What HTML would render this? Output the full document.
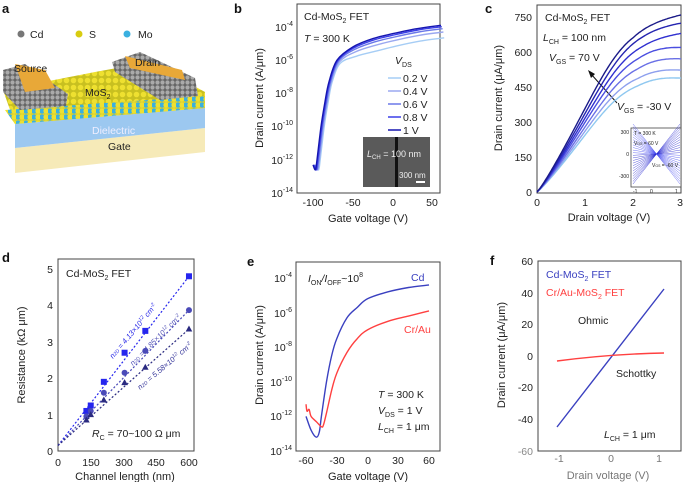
<!DOCTYPE html>
<html><head><meta charset="utf-8"><style>
body{margin:0;background:#fff}
svg{display:block;font-family:"Liberation Sans",sans-serif}
.t{font-size:11px;fill:#222}
.s{font-size:10.5px;fill:#222}
.pl{font-size:13px;font-weight:bold;fill:#111}
</style></head><body>
<svg id="s" width="684" height="482" viewBox="0 0 684 482">
<defs>
<pattern id="pm" width="7" height="7" patternUnits="userSpaceOnUse"><rect width="7" height="7" fill="#c8c020"/><circle cx="3.5" cy="3.5" r="2.8" fill="#eee030"/></pattern>
<pattern id="pb" width="8" height="6" patternUnits="userSpaceOnUse"><rect width="8" height="6" fill="#d8d030"/><circle cx="2" cy="3" r="2.6" fill="#3ab0e0"/><circle cx="6" cy="3" r="2.6" fill="#eee030"/></pattern>
<pattern id="pc" width="5" height="5" patternUnits="userSpaceOnUse"><rect width="5" height="5" fill="#666"/><circle cx="2.5" cy="2.5" r="2.1" fill="#aaa"/></pattern>
</defs>
<!-- panel a -->
<text class="pl" x="2" y="13">a</text>
<circle cx="21" cy="34" r="3.5" fill="#777"/><text class="s" x="30" y="38">Cd</text>
<circle cx="79" cy="34" r="3.5" fill="#d8cc10"/><text class="s" x="89" y="38">S</text>
<circle cx="127" cy="34" r="3.5" fill="#3ab0e0"/><text class="s" x="138" y="38">Mo</text>
<polygon points="15,148 205,128 205,152 15,173" fill="#f6eab8"/>
<polygon points="15,124 205,108 205,128 15,148" fill="#9cc8f0"/>
<polygon points="3,90 95,72 150,62 205,92 205,108 15,124" fill="url(#pm)"/>
<polygon points="5,110 205,96 205,108 15,124" fill="url(#pb)"/>
<polygon points="3,70 25,64 68,94 66,106 20,110 3,92" fill="url(#pc)"/>
<polygon points="112,62 140,52 195,78 198,96 160,100 115,72" fill="url(#pc)"/>
<polygon points="15,64 45,70 55,88 25,92" fill="#e8a838"/>
<polygon points="125,56 182,70 185,80 130,68" fill="#e8a838"/>
<text class="s" x="14" y="72">Source</text>
<text class="s" x="135" y="66">Drain</text>
<text class="s" x="85" y="96">MoS<tspan font-size="7" dy="3">2</tspan></text>
<text class="s" x="92" y="134" style="fill:#eef">Dielectric</text>
<text class="s" x="108" y="150">Gate</text>

<!-- panel b -->
<text class="pl" x="234" y="13">b</text>
<rect x="297" y="4" width="143" height="189" fill="none" stroke="#444"/>
<g class="s" text-anchor="end">
<text x="293" y="31">10<tspan font-size="7" dy="-5">-4</tspan></text>
<text x="293" y="64">10<tspan font-size="7" dy="-5">-6</tspan></text>
<text x="293" y="97">10<tspan font-size="7" dy="-5">-8</tspan></text>
<text x="293" y="130">10<tspan font-size="7" dy="-5">-10</tspan></text>
<text x="293" y="164">10<tspan font-size="7" dy="-5">-12</tspan></text>
<text x="293" y="197">10<tspan font-size="7" dy="-5">-14</tspan></text>
</g>
<g class="s" text-anchor="middle"><text x="313" y="206">-100</text><text x="353" y="206">-50</text><text x="393" y="206">0</text><text x="432" y="206">50</text></g>
<text class="t" x="368" y="222" text-anchor="middle">Gate voltage (V)</text>
<text class="t" transform="translate(263,98) rotate(-90)" text-anchor="middle">Drain current (A/μm)</text>
<text class="s" x="304" y="20">Cd-MoS<tspan font-size="7" dy="3">2</tspan><tspan dy="-3"> FET</tspan></text>
<text class="s" x="304" y="42"><tspan font-style="italic">T</tspan> = 300 K</text>
<text class="s" x="395" y="64" font-style="italic">V<tspan font-size="7" dy="3" font-style="normal">DS</tspan></text>
<g class="s"><text x="403" y="82">0.2 V</text><text x="403" y="95">0.4 V</text><text x="403" y="108">0.6 V</text><text x="403" y="121">0.8 V</text><text x="403" y="134">1 V</text></g>
<g stroke-width="1.5"><line x1="388" y1="78" x2="401" y2="78" stroke="#a6cdf5"/><line x1="388" y1="91" x2="401" y2="91" stroke="#9aa8f0"/><line x1="388" y1="104" x2="401" y2="104" stroke="#6b78e8"/><line x1="388" y1="117" x2="401" y2="117" stroke="#3a3fe8"/><line x1="388" y1="130" x2="401" y2="130" stroke="#1515b0"/></g>
<rect x="363" y="137" width="67" height="50" fill="#5a5a5a"/>
<rect x="395" y="137" width="3" height="50" fill="#111"/>
<text x="367" y="157" font-size="9" fill="#eee" font-style="italic">L<tspan font-size="6" dy="2" font-style="normal">CH</tspan><tspan dy="-2" font-style="normal"> = 100 nm</tspan></text>
<text x="399" y="178" font-size="8" fill="#eee">300 nm</text>
<rect x="416" y="181" width="9" height="2" fill="#fff"/>
<g id="bc" fill="none" stroke-width="1.4"></g>

<!-- panel c -->
<text class="pl" x="485" y="13">c</text>
<rect x="537" y="5" width="144" height="188" fill="none" stroke="#444"/>
<g class="s" text-anchor="end"><text x="532" y="21">750</text><text x="532" y="56">600</text><text x="532" y="91">450</text><text x="532" y="126">300</text><text x="532" y="161">150</text><text x="532" y="196">0</text></g>
<g class="s" text-anchor="middle"><text x="537" y="206">0</text><text x="585" y="206">1</text><text x="633" y="206">2</text><text x="680" y="206">3</text></g>
<text class="t" x="609" y="221" text-anchor="middle">Drain voltage (V)</text>
<text class="t" transform="translate(502,98) rotate(-90)" text-anchor="middle">Drain current (μA/μm)</text>
<text class="s" x="545" y="21">Cd-MoS<tspan font-size="7" dy="3">2</tspan><tspan dy="-3"> FET</tspan></text>
<text class="s" x="543" y="41" font-style="italic">L<tspan font-size="7" dy="3" font-style="normal">CH</tspan><tspan dy="-3" font-style="normal"> = 100 nm</tspan></text>
<text class="s" x="549" y="61" font-style="italic">V<tspan font-size="7" dy="3" font-style="normal">GS</tspan><tspan dy="-3" font-style="normal"> = 70 V</tspan></text>
<text class="s" x="617" y="110" font-style="italic">V<tspan font-size="7" dy="3" font-style="normal">GS</tspan><tspan dy="-3" font-style="normal"> = -30 V</tspan></text>
<line x1="617" y1="103" x2="591" y2="74" stroke="#111"/><polygon points="588,70 595,74 591,78" fill="#111"/>
<g id="cc" fill="none" stroke-width="1.4"></g>
<rect x="631" y="128" width="50" height="59" fill="#fff" stroke="#444" stroke-width="0.8"/>
<g id="ci" stroke-width="0.5"></g>
<g font-size="5" fill="#222"><text x="629" y="134" text-anchor="end">300</text><text x="629" y="156" text-anchor="end">0</text><text x="629" y="178" text-anchor="end">-300</text><text x="633" y="193">-1</text><text x="650" y="193">0</text><text x="675" y="193">1</text><text x="634" y="135">T = 300 K</text><text x="634" y="145">V<tspan font-size="3.5">GS</tspan> = 60 V</text><text x="652" y="167">V<tspan font-size="3.5">GS</tspan> = -60 V</text></g>

<!-- panel d -->
<text class="pl" x="2" y="262">d</text>
<rect x="58" y="259" width="136" height="192" fill="none" stroke="#444"/>
<g class="s" text-anchor="end"><text x="53" y="273">5</text><text x="53" y="309">4</text><text x="53" y="346">3</text><text x="53" y="382">2</text><text x="53" y="419">1</text><text x="53" y="455">0</text></g>
<g class="s" text-anchor="middle"><text x="58" y="466">0</text><text x="91" y="466">150</text><text x="124" y="466">300</text><text x="156" y="466">450</text><text x="189" y="466">600</text></g>
<text class="t" x="125" y="480" text-anchor="middle">Channel length (nm)</text>
<text class="t" transform="translate(25,355) rotate(-90)" text-anchor="middle">Resistance (kΩ μm)</text>
<text class="s" x="66" y="277">Cd-MoS<tspan font-size="7" dy="3">2</tspan><tspan dy="-3"> FET</tspan></text>
<text class="s" x="92" y="437" font-style="italic">R<tspan font-size="7" dy="3" font-style="normal">C</tspan><tspan dy="-3" font-style="normal"> = 70~100 Ω μm</tspan></text>
<g font-size="7.5" font-style="italic">
<text transform="translate(113,359) rotate(-50)" fill="#2a2ae8">n<tspan font-size="5">2D</tspan> = 4.13×10<tspan font-size="5" dy="-3">12</tspan><tspan dy="3"> cm</tspan><tspan font-size="5" dy="-3">-2</tspan></text>
<text transform="translate(133,366) rotate(-45)" fill="#5555b8">n<tspan font-size="5">2D</tspan> = 4.85×10<tspan font-size="5" dy="-3">12</tspan><tspan dy="3"> cm</tspan><tspan font-size="5" dy="-3">-2</tspan></text>
<text transform="translate(140,390) rotate(-40)" fill="#333399">n<tspan font-size="5">2D</tspan> = 5.58×10<tspan font-size="5" dy="-3">12</tspan><tspan dy="3"> cm</tspan><tspan font-size="5" dy="-3">-2</tspan></text>
</g>
<g id="dd"></g>

<!-- panel e -->
<text class="pl" x="247" y="266">e</text>
<rect x="296" y="262" width="144" height="189" fill="none" stroke="#444"/>
<g class="s" text-anchor="end">
<text x="292" y="282">10<tspan font-size="7" dy="-5">-4</tspan></text>
<text x="292" y="317">10<tspan font-size="7" dy="-5">-6</tspan></text>
<text x="292" y="351">10<tspan font-size="7" dy="-5">-8</tspan></text>
<text x="292" y="386">10<tspan font-size="7" dy="-5">-10</tspan></text>
<text x="292" y="420">10<tspan font-size="7" dy="-5">-12</tspan></text>
<text x="292" y="455">10<tspan font-size="7" dy="-5">-14</tspan></text>
</g>
<g class="s" text-anchor="middle"><text x="306" y="464">-60</text><text x="337" y="464">-30</text><text x="368" y="464">0</text><text x="398" y="464">30</text><text x="429" y="464">60</text></g>
<text class="t" x="368" y="480" text-anchor="middle">Gate voltage (V)</text>
<text class="t" transform="translate(263,355) rotate(-90)" text-anchor="middle">Drain current (A/μm)</text>
<text class="s" x="308" y="282" font-style="italic">I<tspan font-size="7" dy="3" font-style="normal">ON</tspan><tspan dy="-3">/I</tspan><tspan font-size="7" dy="3" font-style="normal">OFF</tspan><tspan dy="-3" font-style="normal">~10</tspan><tspan font-size="7" dy="-5" font-style="normal">8</tspan></text>
<text class="s" x="411" y="281" style="fill:#3a40c0">Cd</text>
<text class="s" x="404" y="333" style="fill:#ff4040">Cr/Au</text>
<text class="s" x="378" y="398"><tspan font-style="italic">T</tspan> = 300 K</text>
<text class="s" x="378" y="414" font-style="italic">V<tspan font-size="7" dy="3" font-style="normal">DS</tspan><tspan dy="-3" font-style="normal"> = 1 V</tspan></text>
<text class="s" x="378" y="430" font-style="italic">L<tspan font-size="7" dy="3" font-style="normal">CH</tspan><tspan dy="-3" font-style="normal"> = 1 μm</tspan></text>
<g id="ee" fill="none" stroke-width="1.4"></g>

<!-- panel f -->
<text class="pl" x="490" y="265">f</text>
<rect x="538" y="261" width="143" height="190" fill="none" stroke="#444"/>
<g class="s" text-anchor="end"><text x="533" y="265">60</text><text x="533" y="297">40</text><text x="533" y="328">20</text><text x="533" y="360">0</text><text x="533" y="391">-20</text><text x="533" y="423">-40</text><text x="533" y="455" style="fill:#888">-60</text></g>
<g class="s" text-anchor="middle" style="fill:#777"><text x="559" y="462">-1</text><text x="611" y="462">0</text><text x="659" y="462">1</text></g>
<text class="t" x="608" y="479" text-anchor="middle" style="fill:#777">Drain voltage (V)</text>
<text class="t" transform="translate(505,355) rotate(-90)" text-anchor="middle">Drain current (μA/μm)</text>
<text class="s" x="546" y="278" style="fill:#3a40c0">Cd-MoS<tspan font-size="7" dy="3">2</tspan><tspan dy="-3"> FET</tspan></text>
<text class="s" x="546" y="296" style="fill:#ff4040">Cr/Au-MoS<tspan font-size="7" dy="3">2</tspan><tspan dy="-3"> FET</tspan></text>
<text class="s" x="578" y="324">Ohmic</text>
<text class="s" x="616" y="377">Schottky</text>
<text class="s" x="604" y="438" font-style="italic">L<tspan font-size="7" dy="3" font-style="normal">CH</tspan><tspan dy="-3" font-style="normal"> = 1 μm</tspan></text>
<line x1="557" y1="427" x2="664" y2="289" stroke="#3a40c0" stroke-width="1.4"/>
<path d="M557,361 Q611,354 664,353" fill="none" stroke="#ff4040" stroke-width="1.4"/>
</svg>
<script>
function cr(p){let d="M"+p[0][0].toFixed(1)+","+p[0][1].toFixed(1);for(let i=0;i<p.length-1;i++){const a=p[Math.max(0,i-1)],b=p[i],c=p[i+1],e=p[Math.min(p.length-1,i+2)];d+=" C"+(b[0]+(c[0]-a[0])/6).toFixed(1)+","+(b[1]+(c[1]-a[1])/6).toFixed(1)+" "+(c[0]-(e[0]-b[0])/6).toFixed(1)+","+(c[1]-(e[1]-b[1])/6).toFixed(1)+" "+c[0].toFixed(1)+","+c[1].toFixed(1);}return d;}
function P(st,d,w,ex){return '<path d="'+d+'" stroke="'+st+'"'+(w?' stroke-width="'+w+'"':'')+(ex||'')+'/>';}
// b
(function(){const bx=v=>393+v*0.8,by=l=>27+(-4-l)*16.6;
const base=[[-100,-12.3],[-97,-12.6],[-95,-12],[-90,-10],[-85,-8.5],[-80,-7.3],[-70,-6],[-50,-5.2],[-25,-4.7],[0,-4.4],[30,-4.1],[60,-3.9]];
const cols=["#a6cdf5","#9aa8f0","#6b78e8","#3a3fe8","#1515b0"];let s="";
for(let k=0;k<5;k++){const sh=(4-k)*1.0,dl=[0.75,0.4,0.2,0.08,0][k];
const p=base.map(q=>{let v=q[0]+sh;let l=q[1]-dl*Math.min(1,Math.max(0,(q[0]+80)/40));return [bx(v),by(l)];});s+=P(cols[k],cr(p));}
document.getElementById("bc").innerHTML=s;})();
// c
(function(){const cols=["#8fc8f0","#8ea0ee","#6a70e6","#4a4ee0","#3030d0","#2424b0","#1a1a88"];
const Is=[495,530,580,630,680,725,740],sl=[245,262,280,300,318,338,360];let s="";
for(let k=0;k<7;k++){let p=[];for(let v=0;v<=3.001;v+=0.05){let lin=sl[k]*Math.pow(v,1.12);let x=lin/Is[k];let I=Is[k]*x/Math.pow(1+Math.pow(x,5),0.2);if(k==6)I+=Math.max(0,v-2)*30;else if(k>=4)I+=Math.max(0,v-2.2)*15;else I+=6*Math.sin(Math.max(0,v-2.1)*3.5);p.push([537+v*48,192-I*0.2333]);}s+=P(cols[k],cr(p));}
document.getElementById("cc").innerHTML=s;
let t="";for(let i=0;i<24;i++){const q=(i-11.5)/11.5;const y1=154+q*30,y2=154-q*30;t+='<line x1="633" y1="'+y1.toFixed(1)+'" x2="680" y2="'+y2.toFixed(1)+'" stroke="'+(i<12?"#4a4ef0":"#2a2ad0")+'" opacity="0.8"/>';}
document.getElementById("ci").innerHTML=t;})();
// d
(function(){const X=n=>58+n*0.2183,Y=r=>451-r*36.4;
const L=[130,150,210,305,400,600];
const S=[[1.1,1.25,1.9,2.7,3.3,4.8],[0.95,1.1,1.6,2.15,2.75,3.87],[0.85,1.0,1.4,1.88,2.3,3.35]];
const C=["#2525ee","#4a4ab8","#2a2a80"];let s="";
for(let k=0;k<3;k++){const m=(S[k][5]-0.15)/600;s+='<line x1="'+X(0)+'" y1="'+Y(0.15)+'" x2="'+X(600)+'" y2="'+Y(0.15+m*600)+'" stroke="'+C[k]+'" stroke-width="1.2" stroke-dasharray="2,2"/>';
for(let i=0;i<6;i++){const x=X(L[i]),y=Y(S[k][i]);
if(k==0)s+='<rect x="'+(x-3)+'" y="'+(y-3)+'" width="6" height="6" fill="'+C[k]+'"/>';
else if(k==1)s+='<circle cx="'+x+'" cy="'+y+'" r="3" fill="'+C[k]+'"/>';
else s+='<polygon points="'+x+','+(y-3.5)+' '+(x-3.3)+','+(y+2.5)+' '+(x+3.3)+','+(y+2.5)+'" fill="'+C[k]+'"/>';}}
document.getElementById("dd").innerHTML=s;})();
// e
(function(){const X=v=>367.5+v*1.025,Y=l=>278+(-4-l)*17.3;
const cd=[[-60,-12],[-55,-12.8],[-50,-13.2],[-47,-12.9],[-45,-12],[-40,-10],[-35,-8.5],[-30,-7.5],[-20,-6.3],[-10,-5.7],[0,-5.2],[20,-4.8],[40,-4.55],[60,-4.4]];
const cr2=[[-60,-11.3],[-59,-11.7],[-57,-11.6],[-55,-12],[-50,-12.3],[-45,-12.6],[-43,-12.5],[-40,-11.8],[-35,-10.5],[-30,-9.5],[-20,-8.3],[-10,-7.5],[0,-7],[20,-6.5],[40,-6.2],[60,-5.9]];
document.getElementById("ee").innerHTML=P("#3a40c0",cr(cd.map(q=>[X(q[0]),Y(q[1])])))+P("#ff4040",cr(cr2.map(q=>[X(q[0]),Y(q[1])])));})();
</script>
</body></html>
